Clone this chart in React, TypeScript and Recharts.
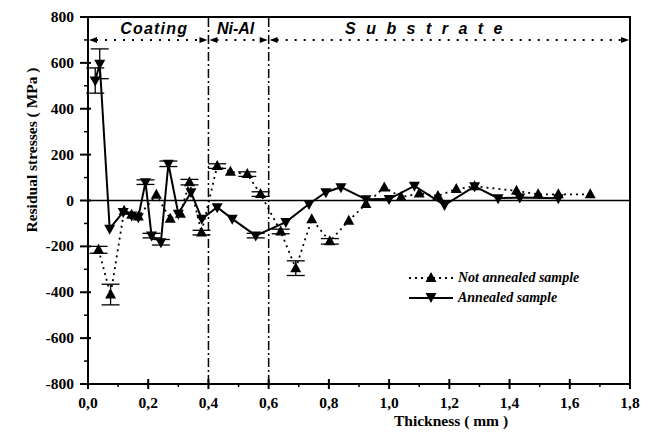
import React from "react";
import {
  ErrorBar,
  Line,
  LineChart,
  ReferenceArea,
  ReferenceDot,
  ReferenceLine,
  XAxis,
  YAxis,
} from "recharts";

// thickness (mm) / residual stress (MPa) / error bar half-size
const notAnnealedX = [
  0.035, 0.075, 0.12, 0.145, 0.167, 0.227, 0.273, 0.307, 0.337, 0.377, 0.429,
  0.473, 0.529, 0.573, 0.64, 0.69, 0.743, 0.803, 0.866, 0.923, 0.984, 1.04,
  1.1, 1.162, 1.223, 1.284, 1.423, 1.495, 1.562, 1.668,
];
const notAnnealedY = [
  -215, -410, -45, -62, -70, 25, -80, -58, 80, -140, 150, 125, 115, 28, -135,
  -295, -82, -178, -88, -15, 57, 15, 30, 20, 50, 62, 42, 27, 27, 27,
];
const notAnnealedErr = [
  15, 45, 0, 0, 0, 0, 0, 0, 12, 10, 10, 0, 10, 10, 10, 32, 0, 12, 0, 0, 0, 0,
  0, 0, 0, 0, 0, 0, 0, 0,
];

const annealedX = [
  0.024, 0.039, 0.072, 0.117, 0.145, 0.167, 0.191, 0.211, 0.242, 0.267, 0.3,
  0.342, 0.378, 0.429, 0.479, 0.557, 0.657, 0.734, 0.79, 0.84, 0.923, 1.0,
  1.084, 1.184, 1.284, 1.362, 1.434, 1.562,
];
const annealedY = [
  523, 596, -123, -50, -65, -73, 80, -153, -182, 160, -58, 36, -80, -29, -80,
  -153, -94, -15, 36, 58, 5, 6, 64, -20, 62, 10, 13, 10,
];
const annealedErr = [
  55, 65, 0, 0, 0, 0, 10, 10, 12, 12, 0, 0, 0, 0, 0, 10, 0, 0, 0, 0, 0, 0, 0,
  0, 0, 0, 0, 0,
];

const xTicks = [
  0, 0.1, 0.2, 0.3, 0.4, 0.5, 0.6, 0.7, 0.8, 0.9, 1.0, 1.1, 1.2, 1.3, 1.4, 1.5,
  1.6, 1.7, 1.8,
];
const yTicks = [
  -800, -700, -600, -500, -400, -300, -200, -100, 0, 100, 200, 300, 400, 500,
  600, 700, 800,
];

const regionNames = ["Coating", "Ni-Al", "S u b s t r a t e"];
const regionFrom = [0, 0.4, 0.6];
const regionTo = [0.4, 0.6, 1.8];
const regionLabelX = [0.22, 0.49, 1.12];
const regionSpacing = [1.2, 0, 3];
const layerBounds = [0.4, 0.6];

const notAnnealed = notAnnealedX.map((x, i) => ({
  x,
  y: notAnnealedY[i],
  err: notAnnealedErr[i],
}));
const annealed = annealedX.map((x, i) => ({
  x,
  y: annealedY[i],
  err: annealedErr[i],
}));

const FONT = "'Liberation Serif', 'DejaVu Serif', serif";
const SANS = "'Liberation Sans', Arial, sans-serif";

const upTriangle = (props: any) => {
  const { cx, cy, key } = props;
  return (
    <polygon
      key={key}
      points={`${cx},${cy - 6} ${cx - 5.5},${cy + 4} ${cx + 5.5},${cy + 4}`}
      fill="#000"
    />
  );
};

const downTriangle = (props: any) => {
  const { cx, cy, key } = props;
  return (
    <polygon
      key={key}
      points={`${cx - 5.5},${cy - 4} ${cx + 5.5},${cy - 4} ${cx},${cy + 6}`}
      fill="#000"
    />
  );
};

const XTick = (props: any) => {
  const { x, y, payload } = props;
  const v = payload.value as number;
  const major = Math.round(v * 10) % 2 === 0;
  if (!major) {
    return <line x1={x} x2={x} y1={y} y2={y + 3} stroke="#000" strokeWidth={1.5} />;
  }
  return (
    <g>
      <line x1={x} x2={x} y1={y - 5} y2={y + 5} stroke="#000" strokeWidth={2} />
      <text
        x={x}
        y={y + 24}
        textAnchor="middle"
        style={{ fontFamily: FONT, fontWeight: 700, fontSize: 15.5 }}
        fill="#000"
      >
        {v.toFixed(1).replace(".", ",")}
      </text>
    </g>
  );
};

const YTick = (props: any) => {
  const { x, y, payload } = props;
  const v = payload.value as number;
  const major = v % 200 === 0;
  if (!major) {
    return <line x1={x - 4} x2={x} y1={y} y2={y} stroke="#000" strokeWidth={1.5} />;
  }
  return (
    <g>
      <line x1={x - 8} x2={x + 3} y1={y} y2={y} stroke="#000" strokeWidth={2} />
      <text
        x={x - 14}
        y={y + 5}
        textAnchor="end"
        style={{ fontFamily: FONT, fontWeight: 700, fontSize: 15.5 }}
        fill="#000"
      >
        {v}
      </text>
    </g>
  );
};

// dotted double arrow marking a layer
const RegionArrow = (props: any) => {
  const { x1, y1, x2 } = props;
  const y = y1;
  return (
    <g>
      <line
        x1={x1 + 8}
        x2={x2 - 8}
        y1={y}
        y2={y}
        stroke="#000"
        strokeWidth={2}
        strokeDasharray="2 7"
      />
      <polygon points={`${x1 + 1},${y} ${x1 + 9},${y - 3} ${x1 + 9},${y + 3}`} fill="#000" />
      <polygon points={`${x2 - 1},${y} ${x2 - 9},${y - 3} ${x2 - 9},${y + 3}`} fill="#000" />
    </g>
  );
};

const LegendRow = ({ dashed, up, text }: { dashed: boolean; up: boolean; text: string }) => (
  <div style={{ display: "flex", alignItems: "center", height: 20 }}>
    <svg width={48} height={16}>
      <line
        x1={2}
        x2={46}
        y1={8}
        y2={8}
        stroke="#000"
        strokeWidth={dashed ? 1.8 : 2}
        strokeDasharray={dashed ? "2 4" : undefined}
      />
      {up ? upTriangle({ cx: 24, cy: 8 }) : downTriangle({ cx: 24, cy: 7 })}
    </svg>
    <span
      style={{
        fontFamily: FONT,
        fontStyle: "italic",
        fontWeight: 700,
        fontSize: 14,
        marginLeft: 3,
        color: "#000",
      }}
    >
      {text}
    </span>
  </div>
);

export default function App() {
  return (
    <div
      style={{
        position: "absolute",
        left: 0,
        top: 0,
        width: 651,
        height: 443,
        background: "#fff",
        fontFamily: FONT,
      }}
    >
      <LineChart
        width={651}
        height={443}
        margin={{ top: 17, right: 21, bottom: 19, left: 8 }}
        style={{ fontFamily: FONT }}
      >
        <XAxis
          dataKey="x"
          type="number"
          domain={[0, 1.8]}
          ticks={xTicks}
          interval={0}
          allowDataOverflow
          height={40}
          tickSize={0}
          tickMargin={0}
          tickLine={false}
          tick={<XTick />}
          axisLine={{ stroke: "#000", strokeWidth: 2 }}
          label={{
            content: ({ viewBox }: any) => (
              <text
                x={viewBox.x + 363}
                y={viewBox.y + 42}
                textAnchor="middle"
                style={{ fontFamily: FONT, fontWeight: 700, fontSize: 15.5 }}
                fill="#000"
              >
                Thickness ( mm )
              </text>
            ),
          }}
        />
        <YAxis
          dataKey="y"
          type="number"
          domain={[-800, 800]}
          ticks={yTicks}
          interval={0}
          allowDataOverflow
          width={80}
          tickSize={0}
          tickMargin={0}
          tickLine={false}
          tick={<YTick />}
          axisLine={{ stroke: "#000", strokeWidth: 2 }}
          label={{
            content: ({ viewBox }: any) => (
              <text
                transform={`translate(${viewBox.x + 29}, ${viewBox.y + 133}) rotate(-90)`}
                textAnchor="middle"
                style={{ fontFamily: FONT, fontWeight: 700, fontSize: 15.5 }}
                fill="#000"
              >
                Residual stresses ( MPa )
              </text>
            ),
          }}
        />

        <ReferenceArea
          x1={0}
          x2={1.8}
          y1={-800}
          y2={800}
          fill="none"
          fillOpacity={0}
          stroke="#000"
          strokeWidth={2}
        />
        <ReferenceLine y={0} stroke="#000" strokeWidth={1.5} />
        {layerBounds.map((b) => (
          <ReferenceLine
            key={b}
            x={b}
            stroke="#000"
            strokeWidth={1.5}
            strokeDasharray="9 3 2 3"
          />
        ))}
        {regionNames.map((name, i) => (
          <ReferenceLine
            key={`arrow-${name}`}
            segment={[
              { x: regionFrom[i], y: 700 },
              { x: regionTo[i], y: 700 },
            ]}
            shape={<RegionArrow />}
          />
        ))}
        {regionNames.map((name, i) => (
          <ReferenceDot
            key={`label-${name}`}
            x={regionLabelX[i]}
            y={752}
            r={0}
            fill="none"
            stroke="none"
            label={{
              value: name,
              position: "center",
              fill: "#000",
              style: {
                fontFamily: SANS,
                fontWeight: 700,
                fontStyle: "italic",
                fontSize: 16,
                letterSpacing: regionSpacing[i],
              },
            }}
          />
        ))}

        <Line
          data={notAnnealed}
          dataKey="y"
          name="Not annealed sample"
          stroke="#000"
          strokeWidth={1.8}
          strokeDasharray="2 4"
          dot={upTriangle}
          activeDot={false}
          isAnimationActive={false}
        >
          <ErrorBar dataKey="err" width={9} stroke="#000" strokeWidth={1.3} direction="y" />
        </Line>
        <Line
          data={annealed}
          dataKey="y"
          name="Annealed sample"
          stroke="#000"
          strokeWidth={2}
          dot={downTriangle}
          activeDot={false}
          isAnimationActive={false}
        >
          <ErrorBar dataKey="err" width={9} stroke="#000" strokeWidth={1.3} direction="y" />
        </Line>
      </LineChart>

      <div style={{ position: "absolute", left: 407, top: 268 }}>
        <LegendRow dashed up text="Not annealed sample" />
        <LegendRow dashed={false} up={false} text="Annealed sample" />
      </div>
    </div>
  );
}
